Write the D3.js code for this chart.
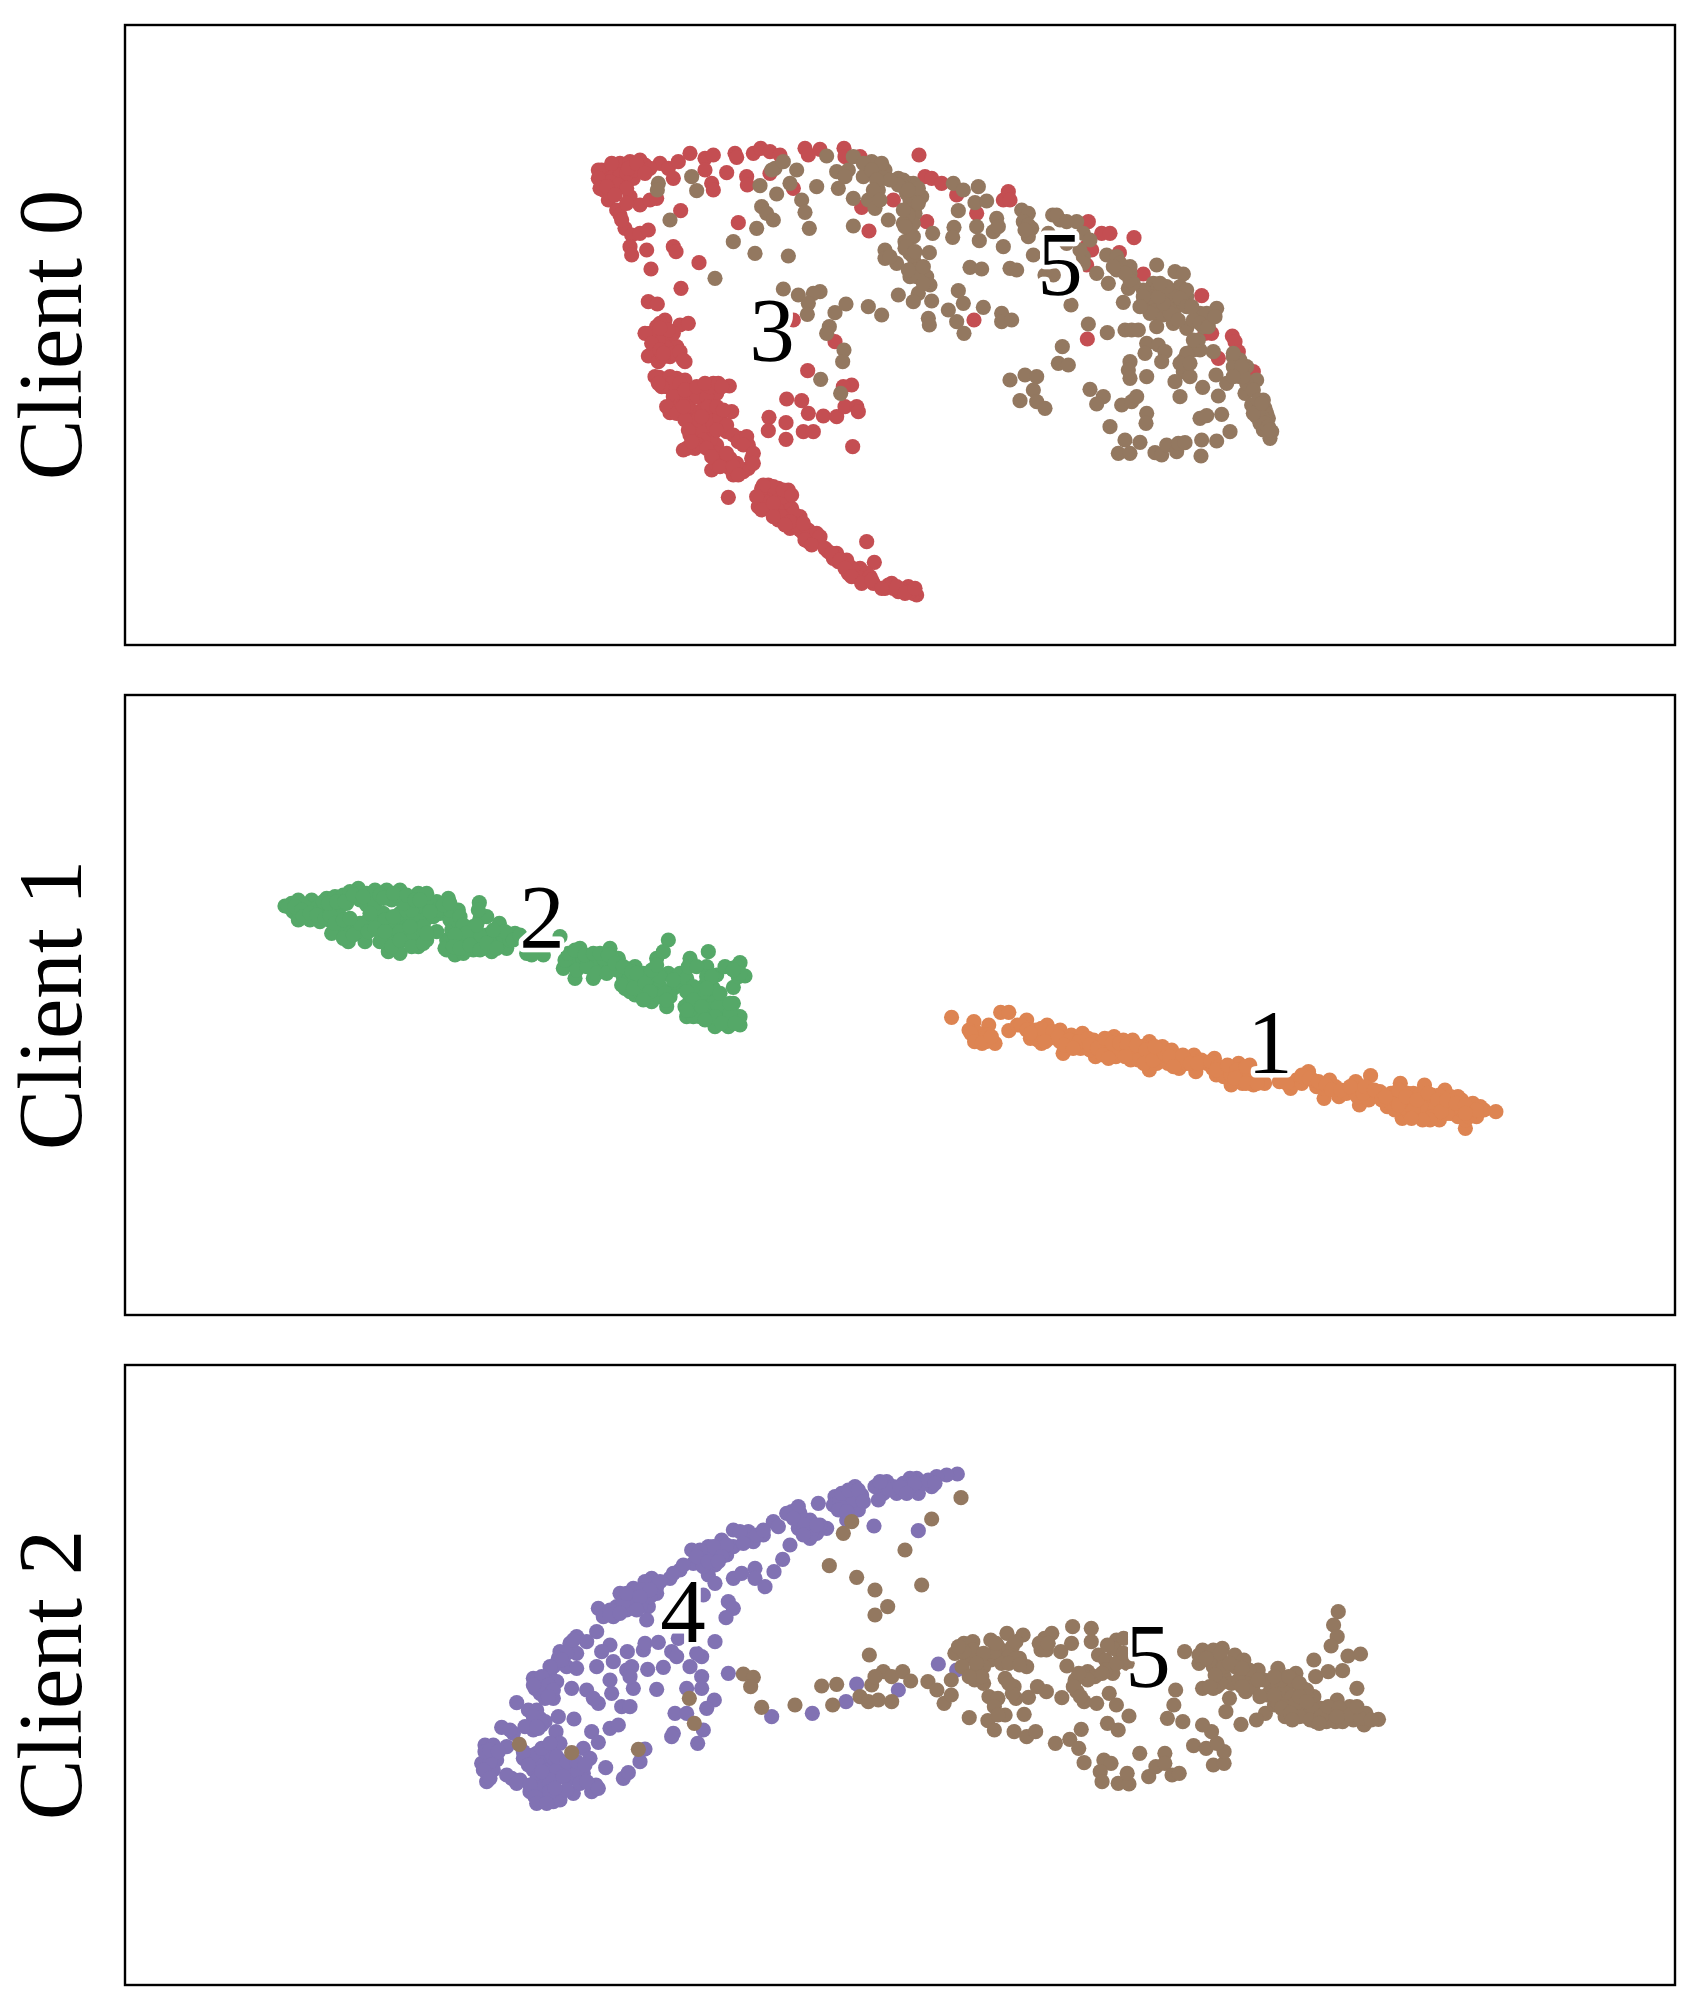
<!DOCTYPE html>
<html>
<head>
<meta charset="utf-8">
<script src="https://cdnjs.cloudflare.com/ajax/libs/d3/7.8.5/d3.min.js"></script>
<style>
  body { margin: 0; background: #fff; }
  text { font-family: "Liberation Serif", serif; fill: #000; }
</style>
</head>
<body>
<div id="chart"></div>
<script>
// embedding points in three pixel windows per client
var client0Class3A = [[95,150],[120,145],[150,130],[180,125],[205,150],[225,135],[100,210],[130,200],[165,180],[190,175],[115,240],[140,270],[150,285],[180,230],[210,255],[240,240],[260,235],[270,130],[295,145],[325,125],[310,175],[360,100],[405,115],[430,105],[405,150],[425,190],[430,210],[470,158],[495,100],[500,112],[530,170],[532,195],[550,100],[572,85],[600,95],[630,105],[600,160],[670,205],[705,85],[715,105],[750,88],[822,85],[825,110],[870,110],[890,130],[332,272],[505,308],[897,333],[970,240],[875,262],[1047,105],[1070,305],[1065,170],[1085,175],[1115,190],[1160,225],[1220,280],[1300,240],[1315,215],[1320,240],[165,325],[185,345],[210,340],[235,330],[180,380],[185,405],[230,390],[310,380],[318,395],[243,447],[387,428],[333,505],[235,545],[262,552],[285,600],[260,620],[240,640],[280,640],[330,615],[355,610],[300,660],[320,680],[290,685],[235,708],[265,725],[300,710],[345,725],[320,700],[268,772],[320,775],[345,780],[290,800],[320,810],[430,790],[478,798],[400,810],[370,815],[440,820],[330,840],[360,840],[400,840],[300,878],[345,885],[385,875],[430,880],[485,875],[410,900],[450,910],[370,930],[360,945],[390,950],[430,940],[470,935],[350,985],[375,985],[440,975],[510,955],[535,975],[445,1010],[480,1015],[545,1015],[535,1045],[425,1050],[490,1065],[520,1055],[475,1132],[595,1095],[625,1105],[655,1110],[570,1130],[610,1130],[655,1135],[565,1160],[600,1170],[640,1175],[690,1190],[625,1200],[660,1225],[700,1240],[735,1255],[715,1265],[775,1295],[800,1300],[805,1325],[890,1265],[913,1327],[840,1340],[870,1345],[860,1365],[885,1380],[910,1390],[945,1405],[965,1390],[985,1415],[1015,1400],[1040,1425],[1030,1420],[713,752],[650,837],[695,842],[845,795],[820,800],[715,880],[760,888],[800,890],[825,860],[860,860],[865,875],[597,892],[595,932],[648,908],[648,958],[700,935],[730,935],[848,980],[795,665],[670,600],
  [110,165],[130,170],[150,165],[170,160],[190,150],[120,185],[145,195],[170,205],[210,120],[240,145],[270,610],[250,650],[265,660],[310,640],[295,630],[270,625],[310,700],[280,710],[330,695],[300,770],[305,790],[330,790],[310,830],[350,830],[380,830],[410,830],[420,800],[350,860],[325,860],[400,870],[420,900],[400,925],[430,915],[450,890],[380,900],[470,915],[490,945],[420,960],[400,960],[385,975],[440,1000],[460,1030],[480,1045],[505,965],[530,950],[440,1035],[590,1110],[610,1100],[585,1145],[630,1150],[620,1165],[595,1150],[575,1105],[640,1130],[665,1165],[650,1190],[680,1200],[670,1180],[690,1230],[715,1230],[740,1240],[680,1215],[790,1315],[820,1330],[835,1360],[850,1350],[890,1360],[870,1375],[900,1370],[830,1320],[955,1395],[1000,1410],[1020,1415],[970,1405],
  [85,150],[85,175],[90,205],[110,200],[135,225],[125,130],[175,145],[200,130],[225,160],[170,250],[155,300],[225,640],[245,670],[270,690],[340,720],[280,700],[255,770],[275,800],[265,790],[345,810],[380,800],[405,790],[445,790],[455,800],[290,860],[320,880],[345,900],[340,860],[415,860],[440,860],[460,870],[395,890],[440,930],[355,930],[340,990],[365,965],[410,985],[425,1010],[450,1040],[500,1030],[490,1040],[520,975],[550,1000],[550,1030],[505,1065],[470,1000],[580,1095],[560,1130],[575,1170],[610,1150],[640,1110],[665,1125],[635,1190],[610,1190],[660,1205],[645,1215],[700,1210],[705,1260],[750,1250],[725,1275],[765,1285],[785,1300],[810,1320],[825,1345],[845,1370],[875,1390],[905,1380],[935,1405],[980,1400],[1005,1420],[1035,1405]];
var client0Class3B = [[565,215],[605,250],[630,250],[702,263],[560,290],[575,300],[560,345],[658,308],[730,372],[905,437],[915,550],[935,550],[997,558],[1005,575],[1015,605],[955,625],[1060,665],[222,510],[562,567]];
var client0Class5A = [[265,190],[262,210],[365,170],[380,212],[300,300],[435,475],[575,260],[590,280],[610,300],[560,325],[490,365],[555,400],[655,408],[615,145],[605,150],[640,125],[680,150],[570,197],[620,222],[660,190],[695,240],[705,277],[718,325],[740,200],[770,108],[800,155],[835,150],[805,205],[825,170],[850,110],[880,170],[850,235],[905,125],[945,150],[925,210],[895,240],[915,265],[850,318],[955,300],[985,175],[1030,190],[1010,220],[1055,230],[1020,265],[1015,300],[1020,330],[1088,340],[1005,365],[945,390],[945,415],[980,430],[1020,400],[1035,430],[1020,470],[1078,398],[1070,470],[1080,495],[985,525],[1045,520],[1030,545],[1085,543],[1165,512],[1180,550],[1135,570],[1160,605],[1182,640],[1075,595],[1078,615],[1240,562],[1295,580],[1295,605],[1325,600],[1200,442],[1235,447],[1320,445],[1340,450],[1152,322],[1148,352],[1228,362],[1220,320],[1270,335],[1280,295],[1285,320],[1300,380],[1165,272],[1150,190],[1180,210],[1225,200],[1215,248],[1250,243],[640,507],[685,525],[750,515],[730,520],[715,550],[712,583],[795,578],[828,552],[895,560],[935,585],[778,620],[770,640],[822,690],[818,725],[752,778],[812,820],
  [1015,190],[1020,240],[1035,280],[1030,310],[1000,180],[1000,200],[1020,355],[1005,385],[1030,410],[1040,450],[1035,250],[925,185],[915,160],[935,170],[1015,285],[1045,205],
  [985,195],[1015,210],[1045,250],[1000,310],[1030,350],[1010,380],[1035,395],[1040,470],[1015,450],[1000,270],[1005,320],[960,180],[935,130],[880,130],[905,150],[920,180],[910,210],[930,240],[1060,490],[1060,440],[960,410]];
var client0Class5B = [[365,180],[385,190],[370,215],[395,235],[385,260],[458,195],[480,210],[530,215],[400,315],[330,690],[375,675],[410,680],[400,720],[360,752],[410,755],[435,775],[513,465],[565,522],[622,548],[487,590],[475,640],[505,645],[570,718],[610,740],[590,762],[665,765],[695,755],[710,740],[630,830],[740,790],[738,820],[675,870],[655,910],[690,910],[720,877],[765,908],[785,915],[800,885],[830,905],[835,880],[855,878],[903,918],[905,870],[950,873],[990,845],[900,805],[920,797],[965,793],[690,635],[685,660],[690,685],[740,680],[740,580],[735,610],[775,585],[795,605],[785,635],[675,540],[695,540],[715,540],[850,630],[880,600],[900,600],[850,665],[870,680],[825,695],[840,740],[908,712],[948,675],[980,700],[955,738],[940,605],[1000,620],[1010,660],[1040,650],[1035,730],[1070,690],[1055,765],[1090,750],[1095,775],[1070,800],[1105,805],[1090,840],[1115,845],[1110,865],[1080,820],[620,315],[650,320],[650,360],[590,370],[625,400],[690,370],[685,415],[670,457],[730,460],[770,345],[825,365],[850,372],[760,400],[790,430],[840,410],[860,440],[830,470],[850,460],[735,465],[770,490],[790,495],[820,520],[770,530],[860,535],[900,490],[920,510],[950,475],[895,570],[745,420],[810,430],[445,250],[550,320],[540,300],[435,375],[460,375],[500,280],
  [770,420],[800,450],[815,440],[830,440],[770,465],[800,470],[850,430],[860,420],[810,490],[790,460],[750,440],[730,420],[840,445],[1080,770],[1100,790],[1085,800],[1075,785],[1095,820],[1105,830],[1020,630],[1020,680],[1040,700],[860,610],[840,640],[870,640],[1000,650],[1030,680],[690,350],[660,340],[700,400],[910,510],[920,490],[910,530],
  [1060,720],[1075,750],[1110,840],[1060,790],[1085,760],[1025,650],[1000,680],[880,570],[880,510],[900,520],[925,530],[945,500],[835,510],[750,490],[730,440],[720,470],[775,440],[800,410],[780,400],[860,470],[875,470],[1000,610],[690,390],[675,370],[640,350],[385,225],[375,240],[470,195],[500,215],[550,250],[570,270],[550,340]];
var client1Class2 = [[75,138],[95,130],[115,120],[100,155],[115,180],[140,150],[155,120],[150,180],[175,140],[180,185],[200,115],[225,110],[210,145],[215,185],[250,105],[270,110],[295,85],[240,140],[235,210],[215,220],[265,245],[265,200],[300,120],[320,100],[335,120],[345,90],[380,90],[420,90],[395,120],[450,125],[475,100],[320,185],[315,245],[290,215],[345,170],[370,160],[360,215],[385,190],[400,230],[385,275],[410,255],[430,210],[445,175],[420,160],[480,140],[470,180],[470,220],[475,260],[500,240],[530,125],[565,115],[510,130],[540,160],[595,150],[570,180],[600,210],[560,240],[530,215],[560,270],[585,285],[610,260],[640,270],[658,128],[660,175],[640,200],[680,225],[695,275],[718,190],[720,240],[740,265],[765,220],[800,280],[850,285],[680,170],[900,230],[910,325],[925,300],[960,265],[990,295],[945,355],[1000,355],[1020,320],[1050,265],[1050,320],[1075,295],[1095,385],[1090,350],[1125,320],[1125,405],[1175,425],[1160,380],[1190,295],[1225,240],[1210,275],[1180,350],[1220,440],[1240,385],[1225,340],[1265,345],[1290,295],[1345,275],[1340,320],[1370,345],[1415,325],[1440,308],[1455,348],[1420,382],[1420,430],[1290,420],[1330,380],[1360,385],[1280,470],[1320,470],[1300,440],[1350,440],[1395,460],[1365,500],[1405,500],[1440,495],[1430,470],[1340,410],[1100,330],[1150,340],[1200,380],
  [130,135],[165,160],[195,150],[190,125],[240,170],[260,130],[250,235],[280,225],[240,190],[320,135],[345,130],[300,190],[325,215],[350,190],[375,180],[410,185],[405,205],[440,200],[440,240],[420,280],[360,245],[395,260],[450,235],[500,175],[520,170],[490,200],[500,100],[455,150],[430,130],[410,105],[360,105],[300,100],[270,95],[575,210],[590,180],[570,150],[600,240],[555,265],[610,280],[650,250],[670,260],[700,250],[730,230],[750,240],[660,225],[620,240],[940,290],[970,300],[1000,300],[1030,295],[1060,300],[950,330],[980,320],[1010,340],[1040,340],[1070,330],[1105,360],[1130,370],[1110,395],[1150,400],[1140,350],[1180,400],[1200,410],[1230,410],[1250,350],[1270,380],[1260,340],[1300,400],[1320,410],[1340,440],[1370,420],[1350,470],[1380,470],[1410,480],[1300,470],[1290,450],[1440,470],[1360,350],[1430,320],[1400,470],
  [85,140],[105,140],[125,150],[130,170],[150,160],[170,165],[195,175],[210,165],[225,190],[250,180],[270,175],[205,130],[230,125],[255,125],[280,105],[310,110],[370,115],[400,100],[440,105],[465,120],[480,120],[330,160],[400,170],[345,205],[375,215],[420,215],[420,240],[450,200],[455,260],[490,250],[500,220],[530,150],[550,135],[510,155],[570,130],[600,170],[610,195],[620,220],[585,225],[580,260],[600,265],[630,255],[660,270],[680,250],[710,265],[735,215],[760,240],[780,225],[655,150],[650,195],[700,210],[815,285],[915,300],[925,280],[945,270],[975,285],[1000,280],[1020,280],[1045,285],[1065,310],[1090,320],[1115,335],[1130,340],[1085,375],[1120,385],[1155,370],[1170,395],[1150,420],[1200,350],[1175,330],[1190,315],[1215,400],[1220,420],[1245,365],[1280,355],[1240,360],[1285,320],[1310,320],[1340,350],[1355,350],[1300,380],[1280,395],[1275,440],[1300,420],[1325,440],[1340,385],[1375,440],[1380,400],[1410,460],[1365,470],[1335,480],[1385,490],[1425,490],[1280,450],[1410,430],[1395,320],[1435,350],[1440,340],[1420,330]];
var client1Class1 = [[58,112],[118,125],[105,150],[158,135],[125,175],[150,185],[175,190],[190,97],[212,97],[212,152],[260,120],[235,135],[270,150],[315,135],[270,175],[300,190],[320,175],[350,150],[358,220],[350,185],[380,165],[410,160],[405,205],[440,180],[445,230],[495,170],[480,200],[520,180],[545,180],[500,230],[540,240],[590,185],[570,230],[590,270],[625,200],[650,210],[610,250],[670,265],[640,250],[710,225],[715,275],[765,235],[770,285],[810,315],[830,250],[790,270],[860,255],[870,315],[845,290],[900,310],[970,325],[985,300],[1018,275],[1000,310],[1060,355],[1075,300],[1040,320],[1100,350],[1145,305],[1185,287],[1155,375],[1180,360],[1210,335],[1230,380],[1265,310],[1270,415],[1250,360],[1290,370],[1330,315],[1310,400],[1330,360],[1370,420],[1385,330],[1360,380],[1400,400],[1440,445],[1430,360],[1420,410],[1470,410],[1460,370],[1490,390],[1522,395],[1285,340],[1350,345],[1400,370],[1450,390],
  [130,160],[140,170],[155,165],[285,165],[300,160],[330,170],[290,180],[365,180],[390,190],[420,190],[430,210],[460,190],[465,215],[500,200],[520,210],[510,220],[550,210],[570,200],[560,240],[600,215],[615,230],[640,230],[660,240],[680,245],[690,250],[730,240],[745,250],[760,265],[790,290],[810,285],[830,280],[860,280],[840,310],[880,300],[1000,290],[1030,300],[1060,325],[1090,320],[1120,340],[1145,340],[1150,350],[1240,340],[1250,390],[1270,350],[1300,340],[1320,340],[1290,400],[1340,390],[1320,380],[1380,370],[1350,410],[1400,350],[1410,385],[1430,390],[1390,400],[1440,420],[1460,395],[1480,380],[1240,370],[1280,385],[1370,345],
  [110,160],[120,185],[140,190],[165,170],[245,135],[260,150],[285,150],[300,145],[270,160],[330,155],[310,185],[345,170],[375,180],[360,195],[400,185],[425,175],[385,205],[430,195],[450,205],[470,175],[465,225],[490,190],[510,190],[530,195],[525,230],[480,235],[555,195],[580,210],[575,250],[600,240],[630,220],[605,200],[645,230],[655,260],[680,225],[700,250],[720,250],[755,245],[775,260],[770,270],[800,255],[825,270],[850,260],[820,295],[850,310],[880,310],[940,305],[960,310],[1000,285],[1020,295],[1045,305],[1065,315],[1080,330],[1105,330],[1130,320],[1165,340],[1170,320],[1195,330],[1215,360],[1225,350],[1260,330],[1260,375],[1280,350],[1300,390],[1310,360],[1340,340],[1345,420],[1365,360],[1375,395],[1390,360],[1420,350],[1415,370],[1440,375],[1450,410],[1470,390],[1440,400],[1325,420],[1295,415]];
var client2Class4 = [[1462,72],[1430,75],[1400,80],[1385,110],[1340,85],[1320,85],[1345,130],[1300,100],[1280,130],[1250,95],[1240,130],[1225,150],[1155,110],[1175,135],[1140,140],[1095,140],[1090,165],[1165,180],[1130,210],[1045,160],[1212,228],[1345,242],[965,185],[990,215],[1020,210],[1070,235],[1040,250],[1020,265],[985,235],[960,285],[938,328],[912,365],[910,215],[880,255],[835,245],[790,240],[850,275],[755,270],[715,290],[665,300],[735,310],[770,315],[700,320],[670,340],[735,345],[715,375],[735,400],[790,385],[815,370],[855,355],[855,385],[885,410],[630,360],[600,385],[545,385],[525,395],[490,415],[450,430],[560,430],[520,440],[490,450],[440,470],[385,475],[400,500],[430,500],[470,480],[535,470],[530,510],[700,435],[775,455],[790,475],[768,503],[380,545],[320,560],[350,575],[300,580],[320,610],[270,605],[250,650],[290,650],[320,655],[240,680],[190,685],[195,715],[260,695],[225,725],[250,745],[305,715],[350,720],[385,760],[370,745],[140,758],[175,780],[210,805],[190,840],[225,815],[95,832],[130,850],[265,800],[312,807],[258,845],[365,845],[385,877],[420,835],[445,825],[420,585],[395,605],[380,650],[430,635],[470,660],[485,650],[420,690],[425,730],[490,715],[480,680],[455,770],[480,770],[472,605],[520,600],[525,580],[565,577],[605,605],[620,620],[735,575],[625,565],[695,620],[680,610],[533,658],[580,652],[660,650],[695,680],[695,715],[650,715],[560,718],[733,750],[710,775],[775,670],[615,790],[650,790],[700,840],[610,850],[605,860],[683,880],[45,885],[70,885],[110,890],[35,940],[80,930],[50,995],[70,960],[125,985],[160,925],[200,910],[250,900],[270,880],[220,930],[190,960],[340,895],[360,925],[407,953],[460,985],[475,968],[525,897],[510,935],[300,950],[340,970],[260,985],[230,1000],[180,1025],[210,1055],[250,1055],[270,1050],[310,1030],[365,1025],[378,1005],[200,990],[290,985],[235,960],[905,800],[1027,790],[1128,755],[1160,702],[1285,720],[1405,642],[1460,660],
  [1300,120],[1320,110],[1270,110],[1260,120],[1360,100],[1130,165],[1110,150],[1150,150],[1000,240],[990,190],[1050,225],[1030,235],[720,310],[755,295],[790,290],[830,270],[860,255],[700,350],[510,470],[480,460],[540,440],[460,455],[420,480],[560,410],[215,700],[230,695],[225,745],[215,825],[205,835],[200,780],[70,915],[55,915],[60,935],[200,935],[225,905],[190,915],[250,925],[240,905],[210,1030],[230,1040],[220,1015],[195,1010],[310,985],[320,960],[280,965],[260,960],[240,990],[150,990],
  [1215,110],[1230,95],[1290,110],[1335,100],[1310,130],[1375,90],[1395,100],[1115,130],[1135,120],[1165,120],[1180,155],[1105,180],[1130,185],[985,170],[950,190],[970,205],[1005,225],[1000,255],[1040,225],[925,230],[880,240],[810,245],[820,280],[770,285],[730,290],[690,300],[680,320],[715,335],[755,320],[745,335],[610,370],[640,345],[570,395],[515,420],[470,430],[540,420],[510,440],[420,495],[450,490],[500,480],[310,570],[290,610],[265,625],[275,630],[240,650],[215,680],[235,705],[210,730],[190,705],[250,720],[235,740],[190,800],[165,830],[120,840],[200,830],[45,905],[60,900],[85,905],[40,960],[60,985],[110,975],[140,1000],[160,905],[175,945],[215,895],[240,880],[260,920],[290,935],[320,935],[345,945],[280,980],[215,965],[240,1025],[290,1020],[180,1005],[195,1040],[330,1000],[350,995],[385,1015],[255,1015],[200,1060],[230,1060]];
var client2Class5A = [[1473,143],[1385,207],[1305,300],[1145,215],[1120,250],[1078,347],[1160,382],[1215,420],[1355,405],[1253,470],[1215,495],[1198,615],[820,672],[850,682],[842,710],[875,772],[975,765],[1055,708],[1100,703],[1088,765],[658,745],[673,820],[505,898],[148,883],[305,908],[1170,740],[1205,705],[1195,755],[1225,750],[1265,755],[1240,665],[1265,680],[1298,665],[1322,693],[1215,680]];
var client2Class5B = [[245,305],[270,330],[290,370],[310,345],[310,300],[320,220],[345,190],[370,185],[355,235],[340,260],[420,180],[465,160],[510,165],[450,215],[480,200],[420,240],[400,260],[375,300],[400,310],[500,235],[520,260],[460,295],[485,320],[490,355],[525,352],[550,320],[575,335],[415,350],[440,355],[430,380],[460,405],[412,422],[430,450],[485,455],[520,470],[545,455],[360,413],[513,403],[618,353],[570,175],[560,210],[590,160],[615,215],[632,258],[648,140],[645,190],[700,145],[700,185],[720,225],[740,240],[770,180],[790,175],[780,220],[800,250],[760,280],[690,275],[655,300],[660,335],[680,365],[715,370],[750,340],[770,375],[805,408],[745,430],[775,450],[600,490],[640,478],[665,505],[672,448],[680,548],[735,540],[755,550],[725,575],[730,605],[775,610],[805,612],[800,580],[835,520],[860,590],[880,560],[905,520],[905,550],[925,585],[945,580],[985,497],[1020,505],[1040,555],[1070,550],[1070,515],[1050,490],[1035,455],[1010,435],[935,330],[930,375],[912,415],[955,425],[960,215],[1010,210],[1065,205],[1100,225],[1000,250],[1040,260],[1070,290],[1125,240],[1010,325],[1050,320],[1090,310],[1085,355],[1075,395],[1130,335],[1145,290],[1165,270],[1185,400],[1160,420],[1117,433],[1220,265],[1200,300],[1190,345],[1270,280],[1250,310],[1230,350],[1280,340],[1320,350],[1240,410],[1270,395],[1300,385],[1325,425],[1355,425],[1385,360],[1380,425],[1420,380],[1430,420],[1465,400],[1460,435],[1500,418],[1320,240],[1325,290],[1360,275],[1400,272],[1440,325],[1415,228],[1450,222],[1388,95],[1375,135],[1385,170],[1368,198],[1340,385],[1290,325],[1210,375],
  [440,200],[470,230],[490,235],[450,250],[430,215],[380,270],[370,210],[345,215],[1040,210],[1060,240],[1100,260],[1030,240],[1070,260],[1060,310],[1040,325],[1140,270],[1130,310],[1110,300],[1150,320],[1200,330],[1220,320],[1240,330],[1260,350],[1220,370],[1240,380],[1290,370],[1270,370],[1300,410],[1280,410],[1320,390],[1400,400],[1350,400],[1370,400],[1400,425],[1440,405],[1230,300],[1260,300],[1300,330],[1180,300],[1010,240],[680,290],[710,290],[740,270],[770,250],[690,300],
  [330,200],[400,220],[435,190],[490,185],[470,250],[500,255],[380,250],[395,290],[360,290],[555,190],[575,210],[580,190],[760,205],[745,195],[790,220],[730,280],[665,280],[650,320],[670,350],[480,340],[470,310],[440,405],[1000,225],[1020,235],[1060,220],[1085,250],[1120,265],[1045,285],[1030,320],[1120,320],[1165,300],[1210,290],[1250,290],[1280,310],[1170,350],[1210,345],[1300,350],[1230,385],[1255,400],[1260,420],[1310,420],[1340,410],[1360,380],[1390,385],[1420,405],[1450,415],[1480,420],[1440,380],[1280,350],[1300,365],[1335,430],[1385,410]];

var clientNames = ["Client 0", "Client 1", "Client 2"];
var clusterLabels = [["3", "5"], ["2", "1"], ["4", "5"]];
var red = "#c44e52", brown = "#937860", green = "#55a868", orange = "#dd8452", purple = "#8172b3";

var width = 1705, height = 2010,
    dotRadius = 7.6, labelSize = 91;

// frame of each panel in page pixels
var frames = [
  {left: 125, right: 1675, top: 25, bottom: 645},
  {left: 125, right: 1675, top: 695, bottom: 1315},
  {left: 125, right: 1675, top: 1365, bottom: 1985}
];

// a scale pair for a window of the picture: window units to page pixels
function makeWindow(x0, y0, w, h, unitsX, unitsY){
  return {
    x: d3.scaleLinear().domain([0, unitsX]).range([x0, x0 + w]),
    y: d3.scaleLinear().domain([0, unitsY]).range([y0, y0 + h])
  };
}

var winA = makeWindow(570, 120, 450, 500, 1350, 1500),
    winB = makeWindow(900, 150, 400, 330, 1200, 990),
    winC = makeWindow(260, 860, 500, 200, 1500, 600),
    winD = makeWindow(930, 980, 580, 160, 1560, 480),
    winE = makeWindow(470, 1450, 520, 370, 1560, 1110),
    winF = makeWindow(840, 1580, 560, 230, 1560, 690);

// drawn in this order, later classes lie on top
var layers = [
  {data: client0Class3A, win: winA, color: red},
  {data: client0Class3B, win: winB, color: red},
  {data: client0Class5A, win: winA, color: brown},
  {data: client0Class5B, win: winB, color: brown},
  {data: client1Class2, win: winC, color: green},
  {data: client1Class1, win: winD, color: orange},
  {data: client2Class4, win: winE, color: purple},
  {data: client2Class5A, win: winE, color: brown},
  {data: client2Class5B, win: winF, color: brown}
];

// where the cluster numbers sit, baseline centre
var labelSpots = [
  [{x: 772, y: 361}, {x: 1060, y: 295}],
  [{x: 542, y: 948}, {x: 1270, y: 1073}],
  [{x: 683, y: 1642}, {x: 1148, y: 1687}]
];

var svg = d3.select("#chart")
    .append("svg")
    .attr("width", width)
    .attr("height", height);

layers.forEach(function(layer){
  svg.append("g")
      .selectAll("circle")
      .data(layer.data)
      .enter()
      .append("circle")
      .attr("cx", d => layer.win.x(d[0]))
      .attr("cy", d => layer.win.y(d[1]))
      .attr("r", dotRadius)
      .attr("fill", layer.color);
});

frames.forEach(function(f, i){
  svg.append("rect")
      .attr("x", f.left)
      .attr("y", f.top)
      .attr("width", f.right - f.left)
      .attr("height", f.bottom - f.top)
      .attr("fill", "none")
      .attr("stroke", "#000")
      .attr("stroke-width", 2.4);

  // client name turned up the left side
  svg.append("text")
      .attr("transform", "translate(81," + (f.top + f.bottom) / 2 + ") rotate(-90)")
      .attr("text-anchor", "middle")
      .attr("font-size", labelSize)
      .text(clientNames[i]);

  // cluster numbers with a white halo
  clusterLabels[i].forEach(function(label, j){
    svg.append("text")
        .attr("x", labelSpots[i][j].x)
        .attr("y", labelSpots[i][j].y)
        .attr("text-anchor", "middle")
        .attr("font-size", labelSize)
        .attr("stroke", "#fff")
        .attr("stroke-width", 9)
        .attr("stroke-linejoin", "round")
        .attr("paint-order", "stroke")
        .text(label);
  });
});
</script>
</body>
</html>
